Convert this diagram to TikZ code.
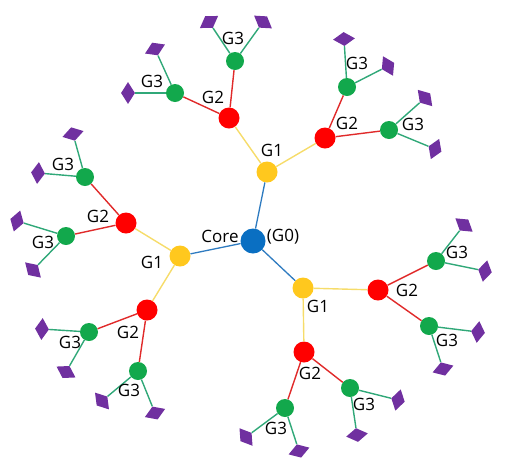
\documentclass[tikz,border=0pt]{standalone}
\usepackage{fontspec}
\setmainfont{Open Sans}
\usetikzlibrary{shapes.geometric,calc}
\definecolor{cblue}{HTML}{0A6FC2}
\definecolor{cyel}{HTML}{FFC81E}
\definecolor{cred}{HTML}{FF0000}
\definecolor{cgreen}{HTML}{12A84C}
\definecolor{cpurple}{HTML}{7030A0}
\definecolor{eblue}{HTML}{2E7BC0}
\definecolor{eyel}{HTML}{F6DC6A}
\definecolor{ered}{HTML}{E02A2A}
\definecolor{egreen}{HTML}{30A878}
\tikzset{
  dot/.style={circle,inner sep=0pt,draw=none},
  corenode/.style={dot,fill=cblue,minimum size=25pt},
  gonenode/.style={dot,fill=cyel,minimum size=21pt},
  gtwonode/.style={dot,fill=cred,minimum size=21pt},
  gthreenode/.style={dot,fill=cgreen,minimum size=18pt},
  leafsty/.style={diamond,fill=cpurple,inner sep=0pt,minimum width=22pt,minimum height=14pt},
  lab/.style={font=\fontsize{17}{20}\selectfont,inner sep=0pt},
  bline/.style={draw=eblue,line width=1.3pt},
  yline/.style={draw=eyel,line width=1.4pt},
  rline/.style={draw=ered,line width=1.4pt},
  gline/.style={draw=egreen,line width=1.4pt}
}
\newcommand\mkleaf[3]{%
  \path let \p1=($(#2)-(#1)$), \n1={atan2(\y1,\x1)} in
    node[leafsty,rotate=\n1+90] (#3) at (#2) {};
  \draw[gline] (#1) -- (#3);}
\begin{document}
\begin{tikzpicture}[x=1pt,y=-1pt]
\useasboundingbox (0,0) rectangle (510,472);
% core and G1
\node[corenode] (c) at (253,241) {};
\node[gonenode] (a) at (267,172) {};
\node[gonenode] (b) at (180,256) {};
\node[gonenode] (d) at (303,288) {};
% G2
\node[gtwonode] (a1) at (229,118) {};
\node[gtwonode] (a2) at (325,138) {};
\node[gtwonode] (b1) at (126,223) {};
\node[gtwonode] (b2) at (147,310) {};
\node[gtwonode] (d1) at (378,290) {};
\node[gtwonode] (d2) at (304,352) {};
% G3
\node[gthreenode] (a1x) at (235,61) {};
\node[gthreenode] (a1y) at (175,93) {};
\node[gthreenode] (a2x) at (347,87) {};
\node[gthreenode] (a2y) at (389,130) {};
\node[gthreenode] (b1x) at (85,177) {};
\node[gthreenode] (b1y) at (66,236) {};
\node[gthreenode] (b2x) at (89,332) {};
\node[gthreenode] (b2y) at (138,371) {};
\node[gthreenode] (d1x) at (436,261) {};
\node[gthreenode] (d1y) at (429,326) {};
\node[gthreenode] (d2x) at (350,388) {};
\node[gthreenode] (d2y) at (285,408) {};
% edges
\draw[bline] (c) -- (a);
\draw[bline] (c) -- (b);
\draw[bline] (c) -- (d);
\draw[yline] (a) -- (a1);
\draw[yline] (a) -- (a2);
\draw[yline] (b) -- (b1);
\draw[yline] (b) -- (b2);
\draw[yline] (d) -- (d1);
\draw[yline] (d) -- (d2);
\draw[rline] (a1) -- (a1x);
\draw[rline] (a1) -- (a1y);
\draw[rline] (a2) -- (a2x);
\draw[rline] (a2) -- (a2y);
\draw[rline] (b1) -- (b1x);
\draw[rline] (b1) -- (b1y);
\draw[rline] (b2) -- (b2x);
\draw[rline] (b2) -- (b2y);
\draw[rline] (d1) -- (d1x);
\draw[rline] (d1) -- (d1y);
\draw[rline] (d2) -- (d2x);
\draw[rline] (d2) -- (d2y);
% leaves
\mkleaf{a1x}{209,22}{l1}
\mkleaf{a1x}{263,22}{l2}
\mkleaf{a1y}{155,49}{l3}
\mkleaf{a1y}{128,93}{l4}
\mkleaf{a2x}{344,39}{l5}
\mkleaf{a2x}{388,66}{l6}
\mkleaf{a2y}{425,98}{l7}
\mkleaf{a2y}{435,149}{l8}
\mkleaf{b1x}{73,134}{l9}
\mkleaf{b1x}{38,173}{l10}
\mkleaf{b1y}{17,221}{l11}
\mkleaf{b1y}{33,270}{l12}
\mkleaf{b2x}{42,329}{l13}
\mkleaf{b2x}{66,372}{l14}
\mkleaf{b2y}{102,401}{l15}
\mkleaf{b2y}{155,413}{l16}
\mkleaf{d1x}{464,225}{l17}
\mkleaf{d1x}{485,271}{l18}
\mkleaf{d1y}{478,332}{l19}
\mkleaf{d1y}{443,369}{l20}
\mkleaf{d2x}{398,400}{l21}
\mkleaf{d2x}{357,435}{l22}
\mkleaf{d2y}{246,437}{l23}
\mkleaf{d2y}{299,451}{l24}
% labels
\node[lab] (tcore) at (220,236) {Core};
\node[lab] (tg0) at (283,237) {(G0)};
\node[lab] (ta) at (272,150) {G1};
\node[lab] (tb) at (152,262) {G1};
\node[lab] (td) at (318,306) {G1};
\node[lab] (ta1) at (213,97) {G2};
\node[lab] (ta2) at (347,123) {G2};
\node[lab] (tb1) at (98,216) {G2};
\node[lab] (tb2) at (128,332) {G2};
\node[lab] (td1) at (407,290) {G2};
\node[lab] (td2) at (310,373) {G2};
\node[lab] (ta1x) at (233,38) {G3};
\node[lab] (ta1y) at (152,81) {G3};
\node[lab] (ta2x) at (357,63) {G3};
\node[lab] (ta2y) at (413,124) {G3};
\node[lab] (tb1x) at (63,164) {G3};
\node[lab] (tb1y) at (43,242) {G3};
\node[lab] (tb2x) at (70,342) {G3};
\node[lab] (tb2y) at (129,390) {G3};
\node[lab] (td1x) at (457,252) {G3};
\node[lab] (td1y) at (447,340) {G3};
\node[lab] (td2x) at (364,404) {G3};
\node[lab] (td2y) at (276,428) {G3};
\end{tikzpicture}
\end{document}
